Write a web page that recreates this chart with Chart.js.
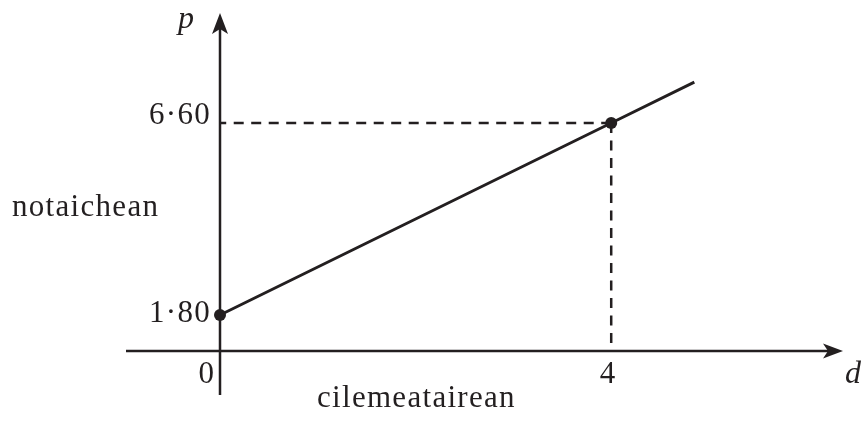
<!DOCTYPE html>
<html>
<head>
<meta charset="utf-8">
<script src="https://cdn.jsdelivr.net/npm/chart.js@4/dist/chart.umd.min.js"></script>
<style>
  body { margin: 0; background: #fff; }
  #wrap { width: 861px; height: 421px; }
</style>
</head>
<body>
<div id="wrap"><canvas id="graph" width="861" height="421"></canvas></div>
<script>
// values
const dValues = [0, 4, 4.85];
const pValues = [1.80, 6.60, 7.62];
const xTicks = [0, 4];
const xTickLabels = ['0', '4'];
const yTicks = [1.80, 6.60];
const yTickLabels = ['1·80', '6·60'];
const xTitle = 'cilemeatairean';
const yTitle = 'notaichean';
const xName = 'd';
const yName = 'p';

const ink = '#231f20';
const serif = '"Liberation Serif", "Times New Roman", serif';

const yMin = 0.9, yMax = 9.35;

function arrow(ctx, x, y, dir) {
    // dir: 'up' or 'right'
    ctx.beginPath();
    if (dir === 'up') {
        ctx.moveTo(x, y);
        ctx.lineTo(x - 8, y + 21);
        ctx.lineTo(x, y + 16);
        ctx.lineTo(x + 8, y + 21);
    } else {
        ctx.moveTo(x, y);
        ctx.lineTo(x - 20, y - 7.5);
        ctx.lineTo(x - 15, y);
        ctx.lineTo(x - 20, y + 7.5);
    }
    ctx.closePath();
    ctx.fill();
}

const axesPlugin = {
    id: 'sketchAxes',
    beforeDatasetsDraw(chart) {
        const ctx = chart.ctx;
        const xs = chart.scales.x;
        const ox = xs.getPixelForValue(0);
        const oy = chart.chartArea.bottom;
        ctx.save();
        ctx.strokeStyle = ink;
        ctx.fillStyle = ink;
        ctx.lineWidth = 2.5;
        ctx.beginPath();
        ctx.moveTo(ox - 94, oy);
        ctx.lineTo(chart.chartArea.right - 10, oy);
        ctx.moveTo(ox, oy + 44);
        ctx.lineTo(ox, chart.chartArea.top + 10);
        ctx.stroke();
        arrow(ctx, chart.chartArea.right, oy, 'right');
        arrow(ctx, ox, chart.chartArea.top, 'up');
        ctx.restore();
    },
    afterDraw(chart) {
        const ctx = chart.ctx;
        const xs = chart.scales.x, ys = chart.scales.y;
        const ox = xs.getPixelForValue(0);
        const oy = chart.chartArea.bottom;
        ctx.save();
        ctx.fillStyle = ink;
        ctx.font = '31px ' + serif;
        ctx.letterSpacing = '1.3px';
        ctx.textBaseline = 'alphabetic';

        // x tick labels
        ctx.textAlign = 'center';
        xTicks.forEach((v, i) => {
            let px = xs.getPixelForValue(v);
            px += (v === 0) ? -13 : -3;
            ctx.fillText(xTickLabels[i], px, oy + 32);
        });

        // y tick labels
        ctx.textAlign = 'right';
        const yOff = [7, 1];
        yTicks.forEach((v, i) => {
            ctx.fillText(yTickLabels[i], ox - 9, ys.getPixelForValue(v) + yOff[i]);
        });

        // titles
        ctx.textAlign = 'left';
        ctx.fillText(yTitle, 12, 216);
        ctx.fillText(xTitle, 317, 407);

        ctx.letterSpacing = '0px';
        ctx.font = 'italic 32px ' + serif;
        ctx.fillText(yName, ox - 42, 28);
        ctx.fillText(xName, chart.chartArea.right + 2, oy + 32);
        ctx.restore();
    }
};

const mainLine = dValues.map((d, i) => ({ x: d, y: pValues[i] }));
const guide = [
    { x: xTicks[1], y: pValues[1] },
    { x: xTicks[0], y: pValues[1] },
    { x: xTicks[1], y: NaN },
    { x: xTicks[1], y: pValues[1] },
    { x: xTicks[1], y: yMin }
];

new Chart(document.getElementById('graph'), {
    type: 'scatter',
    data: {
        datasets: [
            {
                data: guide,
                showLine: true,
                spanGaps: false,
                borderColor: ink,
                borderWidth: 2.5,
                borderDash: [10, 7.5],
                pointRadius: 0,
                clip: false
            },
            {
                data: mainLine,
                showLine: true,
                borderColor: ink,
                backgroundColor: ink,
                borderWidth: 3,
                pointRadius: [6, 6, 0],
                pointBorderWidth: 0,
                clip: false
            }
        ]
    },
    options: {
        responsive: false,
        devicePixelRatio: 1,
        animation: false,
        layout: { padding: { left: 220, right: 18, top: 13, bottom: 70 } },
        plugins: { legend: { display: false }, tooltip: { enabled: false } },
        scales: {
            x: { type: 'linear', min: 0, max: 6.37, display: false },
            y: { type: 'linear', min: yMin, max: yMax, display: false }
        }
    },
    plugins: [axesPlugin]
});
</script>
</body>
</html>
